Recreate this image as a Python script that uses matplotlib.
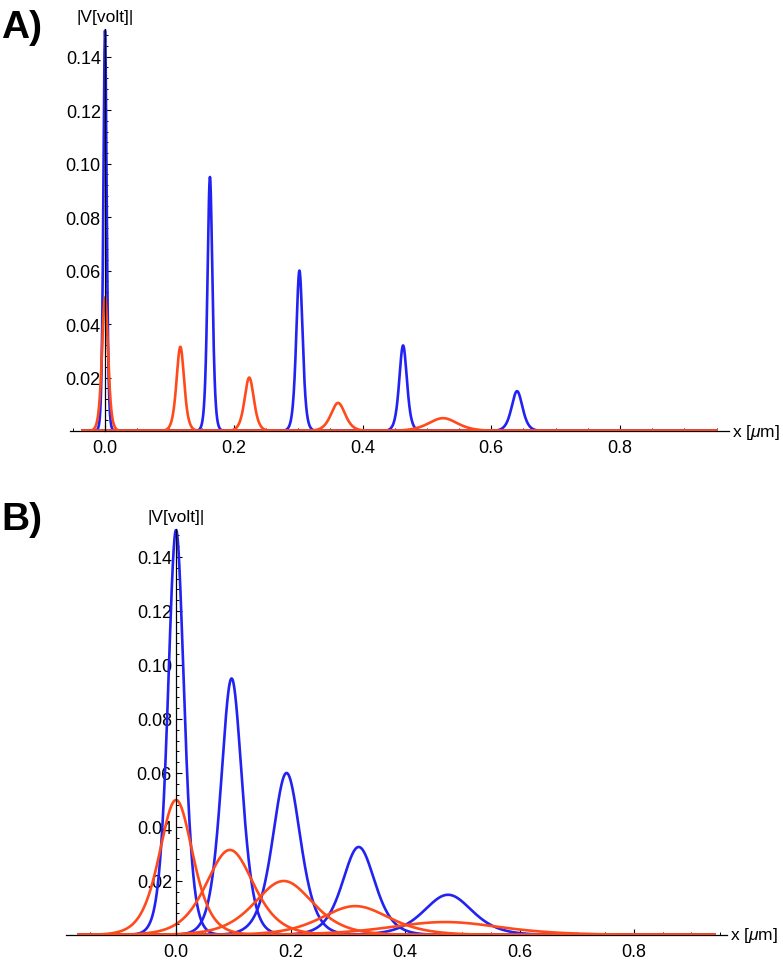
import numpy as np
import matplotlib
matplotlib.use("Agg")
import matplotlib.pyplot as plt
from matplotlib.ticker import FixedLocator, MultipleLocator

plt.rcParams['font.family'] = ['Liberation Sans', 'DejaVu Sans']
plt.rcParams['mathtext.fontset'] = 'custom'
plt.rcParams['mathtext.rm'] = 'Liberation Sans'
plt.rcParams['mathtext.it'] = 'Liberation Sans:italic'

# panel A: narrow pulses (peak position, height, full width at half max)
a_blue_pos = [0.0, 0.163, 0.302, 0.463, 0.640]
a_blue_amp = [0.150, 0.095, 0.060, 0.032, 0.0149]
a_blue_fwhm = [0.006, 0.009, 0.0116, 0.014, 0.020]
a_red_pos = [0.0, 0.117, 0.224, 0.362, 0.525]
a_red_amp = [0.050, 0.0315, 0.020, 0.0105, 0.0048]
a_red_fwhm = [0.011, 0.014, 0.017, 0.026, 0.053]
a_range = (-0.035, 0.95)

# panel B: broad pulses
b_blue_pos = [0.0, 0.097, 0.193, 0.319, 0.475]
b_blue_amp = [0.150, 0.095, 0.060, 0.0326, 0.0149]
b_blue_fwhm = [0.033, 0.043, 0.057, 0.067, 0.100]
b_red_pos = [0.0, 0.094, 0.188, 0.313, 0.470]
b_red_amp = [0.050, 0.0315, 0.020, 0.0107, 0.0048]
b_red_fwhm = [0.069, 0.098, 0.120, 0.140, 0.230]
b_range = (-0.17, 0.94)

x_ticks = [0.0, 0.2, 0.4, 0.6, 0.8]
y_ticks = [0.02, 0.04, 0.06, 0.08, 0.10, 0.12, 0.14]

BLUE = '#2222f2'
RED = '#ff4a1c'

W, H = 783, 962
fig = plt.figure(figsize=(W / 100, H / 100), dpi=100)


def pulse(x, c, a, fwhm):
    w = fwhm / 1.7627
    return a / np.cosh((x - c) / w) ** 2


def panel(rect, xr, blue, red, label, label_y):
    # rect in pixels: left, top, right, bottom
    l, t, r, b = rect
    ax = fig.add_axes([l / W, 1 - b / H, (r - l) / W, (b - t) / H])
    pad = 0.02 * (xr[1] - xr[0])
    ax.set_xlim(xr[0] - pad, xr[1] + pad)
    ax.set_ylim(0, 0.1505)
    x = np.linspace(xr[0], xr[1], 3000)
    for pos, amp, fw in zip(*blue):
        ax.plot(x, pulse(x, pos, amp, fw), color=BLUE, lw=1.9, zorder=3)
    for pos, amp, fw in zip(*red):
        ax.plot(x, pulse(x, pos, amp, fw), color=RED, lw=1.9, zorder=3)

    for s in ['top', 'right']:
        ax.spines[s].set_visible(False)
    ax.spines['left'].set_position(('data', 0))
    ax.spines['bottom'].set_position(('data', 0))
    ax.spines['left'].set_zorder(4)
    ax.spines['bottom'].set_zorder(2)
    for s in ['left', 'bottom']:
        ax.spines[s].set_linewidth(0.9)

    ax.xaxis.set_major_locator(FixedLocator(x_ticks))
    ax.xaxis.set_minor_locator(MultipleLocator(0.05))
    ax.set_xticklabels(['%.1f' % v for v in x_ticks])
    ax.yaxis.set_major_locator(FixedLocator(y_ticks))
    ax.yaxis.set_minor_locator(MultipleLocator(0.004))
    ax.set_yticklabels(['%.2f' % v for v in y_ticks])
    ax.tick_params(which='major', direction='in', length=4.5, width=0.8,
                   labelsize=13, color='black')
    ax.tick_params(which='minor', direction='in', length=2.5, width=0.7)
    ax.tick_params(axis='x', which='major', pad=6)
    ax.tick_params(axis='y', which='major', pad=3)

    ax.annotate('|V[volt]|', xy=(0, 0.1505), xycoords='data',
                xytext=(0, 9), textcoords='offset points',
                ha='center', va='center', fontsize=12.5)
    ax.annotate(r'x [$\mu$m]', xy=(1, 0),
                xycoords=ax.get_yaxis_transform(),
                xytext=(2, 0), textcoords='offset points',
                ha='left', va='center', fontsize=12.5)
    fig.text(1 / W, 1 - label_y / H, label, fontsize=28, fontweight='bold',
             ha='left', va='baseline')
    return ax


panel((69.8, 29.6, 729.3, 432), a_range,
      (a_blue_pos, a_blue_amp, a_blue_fwhm),
      (a_red_pos, a_red_amp, a_red_fwhm), 'A)', 38)
panel((66, 529.6, 727, 936), b_range,
      (b_blue_pos, b_blue_amp, b_blue_fwhm),
      (b_red_pos, b_red_amp, b_red_fwhm), 'B)', 530)

fig.savefig('out.png', dpi=100)
